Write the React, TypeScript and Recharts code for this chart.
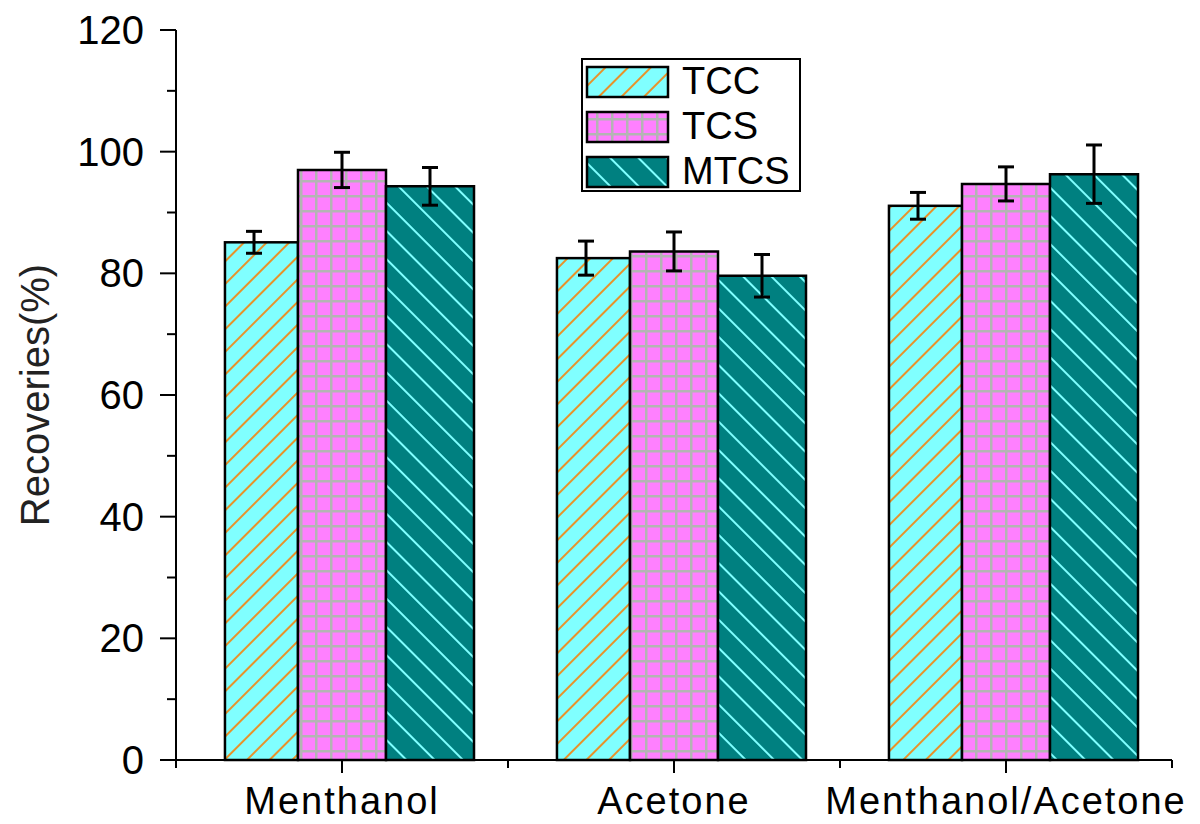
import { BarChart, Bar, XAxis, YAxis, ErrorBar, Legend, Label } from 'recharts'

const categories = ['Menthanol', 'Acetone', 'Menthanol/Acetone']
const tccValues = [85.1, 82.5, 91.1]
const tccErrors = [1.8, 2.8, 2.2]
const tcsValues = [97.0, 83.6, 94.7]
const tcsErrors = [2.9, 3.2, 2.8]
const mtcsValues = [94.3, 79.6, 96.3]
const mtcsErrors = [3.1, 3.5, 4.8]
const seriesNames = ['TCC', 'TCS', 'MTCS']
const yTicks = [0, 10, 20, 30, 40, 50, 60, 70, 80, 90, 100, 110, 120]
const xTicks = [0.5, 1, 1.5, 2, 2.5, 3, 3.5]

const data = categories.map((name, i) => ({
    pos: i + 1,
    name,
    tcc: tccValues[i],
    tccErr: tccErrors[i],
    tcs: tcsValues[i],
    tcsErr: tcsErrors[i],
    mtcs: mtcsValues[i],
    mtcsErr: mtcsErrors[i],
}))

const FONT = '"Liberation Sans", Arial, sans-serif'
const fills = ['url(#tccFill)', 'url(#tcsFill)', 'url(#mtcsFill)']

// TCC bar is drawn a bit narrower than the others (left side trimmed)
const TccShape = (props: any) => {
    const { x, y, width, height } = props
    const trim = width * 0.17
    return (
        <rect x={x + trim} y={y} width={width - trim} height={height}
            fill="url(#tccFill)" stroke="#000" strokeWidth={2.5} />
    )
}

// x ticks: long tick + name on whole positions, short tick in between
const XTick = (props: any) => {
    const { x, y, payload } = props
    const v = payload.value
    const major = Number.isInteger(v)
    return (
        <g>
            <line x1={x} y1={y} x2={x} y2={y + (major ? 13 : 8)} stroke="#000" strokeWidth={2} />
            {major && (
                <text x={x} y={y + 27} dy="0.71em" textAnchor="middle" fontSize={38}
                    fontFamily={FONT} letterSpacing={2} fill="#000">
                    {categories[v - 1]}
                </text>
            )}
        </g>
    )
}

// y ticks: labels every 20, minor ticks every 10
const YTick = (props: any) => {
    const { x, y, payload } = props
    const v = payload.value
    const major = v % 20 === 0
    return (
        <g>
            <line x1={x - (major ? 16 : 9)} y1={y} x2={x} y2={y} stroke="#000" strokeWidth={2} />
            {major && (
                <text x={x - 32} y={y} textAnchor="end" dominantBaseline="central" fontSize={40}
                    fontFamily={FONT} fill="#000">
                    {v}
                </text>
            )}
        </g>
    )
}

function LegendBox() {
    return (
        <svg width={220} height={134} style={{ display: 'block' }}>
            <rect x={1} y={1} width={218} height={132} fill="#fff" stroke="#000" strokeWidth={2} />
            {seriesNames.map((name, i) => (
                <g key={name}>
                    <rect x={6} y={9 + i * 45} width={81} height={30} fill={fills[i]} stroke="#000" strokeWidth={2.5} />
                    <text x={101} y={36 + i * 45} fontSize={38} fontFamily={FONT} fill="#000">{name}</text>
                </g>
            ))}
        </svg>
    )
}

const YLabel = (props: any) => {
    const { viewBox } = props
    const cx = viewBox.x + 35
    const cy = viewBox.y + viewBox.height / 2
    return (
        <text x={cx} y={cy} transform={`rotate(-90, ${cx}, ${cy})`} textAnchor="middle"
            dominantBaseline="central" fontSize={40} fontFamily={FONT} fill="#222">
            Recoveries(%)
        </text>
    )
}

export default function App() {
    return (
        <div style={{ position: 'absolute', left: 0, top: 0, width: 1200, height: 824, background: '#fff' }}>
            <BarChart
                width={1200}
                height={824}
                data={data}
                margin={{ top: 30, right: 28, left: 0, bottom: 0 }}
                barSize={88}
                barGap={0}
            >
                <defs>
                    <pattern id="tccFill" width={16} height={16} patternUnits="userSpaceOnUse" patternTransform="rotate(45)">
                        <rect width={16} height={16} fill="#80FFFF" />
                        <line x1={8} y1={0} x2={8} y2={16} stroke="#E8922A" strokeWidth={2} />
                    </pattern>
                    <pattern id="tcsFill" width={15} height={15} patternUnits="userSpaceOnUse">
                        <rect width={15} height={15} fill="#B4B4B4" />
                        <rect x={2.5} y={2.5} width={12.5} height={12.5} fill="#FF80FF" />
                    </pattern>
                    <pattern id="mtcsFill" width={20} height={20} patternUnits="userSpaceOnUse" patternTransform="rotate(-45)">
                        <rect width={20} height={20} fill="#008080" />
                        <line x1={10} y1={0} x2={10} y2={20} stroke="#80FFFF" strokeWidth={2} />
                    </pattern>
                </defs>

                <XAxis
                    dataKey="pos"
                    type="number"
                    domain={[0.5, 3.5]}
                    ticks={xTicks}
                    interval={0}
                    height={64}
                    tickSize={0}
                    tickMargin={0}
                    tickLine={false}
                    axisLine={{ stroke: '#000', strokeWidth: 2 }}
                    tick={XTick}
                />
                <YAxis
                    domain={[0, 120]}
                    ticks={yTicks}
                    interval={0}
                    width={176}
                    tickSize={0}
                    tickMargin={0}
                    tickLine={false}
                    axisLine={{ stroke: '#000', strokeWidth: 2 }}
                    tick={YTick}
                >
                    <Label content={YLabel} />
                </YAxis>

                <Legend
                    layout="horizontal"
                    verticalAlign="middle"
                    align="center"
                    wrapperStyle={{ left: 581, top: 58, width: 220, height: 134 }}
                    content={() => <LegendBox />}
                />

                <Bar dataKey="tcc" name="TCC" fill="url(#tccFill)"
                    stroke="#000" strokeWidth={2.5} shape={TccShape} isAnimationActive={false}>
                    <ErrorBar dataKey="tccErr" width={8} stroke="#000" strokeWidth={3} isAnimationActive={false} />
                </Bar>
                <Bar dataKey="tcs" name="TCS" fill="url(#tcsFill)"
                    stroke="#000" strokeWidth={2.5} isAnimationActive={false}>
                    <ErrorBar dataKey="tcsErr" width={8} stroke="#000" strokeWidth={3} isAnimationActive={false} />
                </Bar>
                <Bar dataKey="mtcs" name="MTCS" fill="url(#mtcsFill)"
                    stroke="#000" strokeWidth={2.5} isAnimationActive={false}>
                    <ErrorBar dataKey="mtcsErr" width={8} stroke="#000" strokeWidth={3} isAnimationActive={false} />
                </Bar>
            </BarChart>
        </div>
    )
}
